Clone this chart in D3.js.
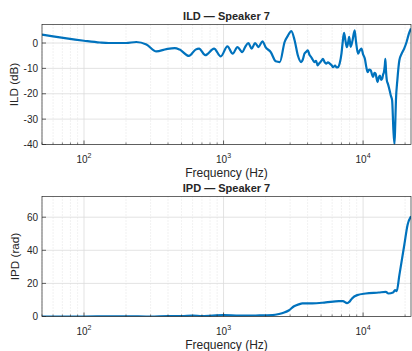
<!DOCTYPE html>
<html lang="en">
<head>
<meta charset="UTF-8">
<title>ILD / IPD - Speaker 7</title>
<script src="https://d3js.org/d3.v7.min.js"></script>
<style>
  body { margin: 0; background: #fff; }
  text { font-family: "Liberation Sans", Arial, sans-serif; fill: #262626; }
</style>
</head>
<body>
<div id="chart"></div>
<script>
// ILD curve (frequency in Hz, level difference in dB)
var ildFreq = [50, 60, 75, 100, 130, 150, 200, 237, 280, 330, 390, 447, 485, 565, 630, 668, 740,
  855, 955, 1066, 1163, 1258, 1364, 1430, 1507, 1590, 1683, 1780, 1900, 2000, 2180, 2365, 2530,
  2740, 2900, 3060, 3230, 3410, 3600, 3700, 3800, 3900, 4020, 4120, 4240, 4350, 4470, 4600, 4720,
  4850, 5000, 5160, 5300, 5440, 5600, 5770, 5950, 6100, 6300, 6450, 6620, 6800, 7000, 7150, 7300,
  7500, 7650, 7800, 7950, 8150, 8400, 8700, 8900, 9200, 9450, 9730, 10000, 10300, 10550, 10800,
  11050, 11350, 11600, 11800, 12050, 12300, 12500, 12700, 12950, 13200, 13450, 13700, 13900,
  14100, 14300, 14450, 14600, 14800, 15050, 15300, 15550, 15800, 16150, 16500, 16800, 17000,
  17200, 17600, 18200, 18900, 19700, 20500, 21300, 22050];
var ildValues = [3.3, 2.6, 1.8, 0.9, 0.2, 0.0, 0.0, 0.4, -0.6, -3.3, -2.4, -2.0, -2.6, -5.1, -2.6, -2.2, -4.8,
  -2.2, -5.3, -1.3, -4.2, -1.6, -3.6, -1.5, 0.0, -2.2, 0.0, -1.6, 0.7, -1.6, -3.6, -7.2, -7.5,
  0.4, 3.0, 4.7, 1.1, -4.9, -7.5, -6.5, -4.2, -3.5, -2.9, -4.5, -5.5, -6.5, -7.5, -7.0, -8.8,
  -8.0, -7.2, -6.2, -7.5, -8.1, -7.6, -8.1, -8.8, -9.5, -8.9, -9.6, -9.5, -8.0, -4.2, 0.5, 4.0,
  0.5, -1.6, 0.0, 2.4, -1.5, 1.0, 5.0, 0.5, -4.2, -3.0, -2.2, -4.5, -6.2, -9.5, -11.5,
  -10.5, -10.8, -12.5, -13.4, -11.8, -12.1, -14.0, -15.4, -13.5, -12.8, -14.5, -14.1, -12.5,
  -11.5, -9.0, -6.2, -11.0, -14.7, -16.0, -17.4, -19.0, -20.7, -22.6, -34.5, -39.8, -32.0,
  -22.6, -14.7, -6.8, -4.2, -2.2, 0.4, 3.7, 5.7];

// IPD curve (frequency in Hz, phase difference in rad)
var ipdFreq = [50, 100, 200, 300, 400, 500, 600, 700, 1000, 1300, 1700, 2240, 2500, 2720, 2950,
  3200, 3450, 3675, 4320, 5400, 6720, 7160, 7680, 8000, 8330, 9070, 10450, 12950, 14540, 15190,
  16400, 16950, 17420, 18200, 19740, 20830, 22050];
var ipdValues = [0, 0, 0.1, 0, 0.3, 0.2, 0.6, 0.3, 0.8, 0.5, 0.6, 0.8, 1.5, 2.4, 3.8,
  6.2, 7.3, 7.9, 7.9, 8.5, 9.3, 9.3, 8.1, 9.0, 10.9, 12.9, 13.9, 14.5, 14.9, 13.9,
  14.5, 15.9, 15.3, 25, 43.2, 55.3, 60.5];

var freqRange = [50, 22050];
var decadeTicks = [100, 1000, 10000];
var ildTicks = [-40, -30, -20, -10, 0];
var ipdTicks = [0, 20, 40, 60];

var W = 412, H = 351;
var svg = d3.select("#chart").append("svg")
  .attr("width", W).attr("height", H);

var left = 42, right = 411;

function panel(cfg) {
  var x = d3.scaleLog().domain(freqRange).range([left, right]);
  var y = d3.scaleLinear().domain(cfg.yDomain).range([cfg.bottom, cfg.top]);
  var g = svg.append("g");

  // minor ticks for the log axis
  var minor = [];
  [10, 100, 1000, 10000].forEach(function(d) {
    for (var k = 1; k < 10; k++) {
      var v = d * k;
      if (v >= freqRange[0] && v <= freqRange[1] && decadeTicks.indexOf(v) < 0) minor.push(v);
    }
  });

  // grid
  g.selectAll(".minor").data(minor).enter().append("line")
    .attr("x1", d => x(d)).attr("x2", d => x(d))
    .attr("y1", cfg.top).attr("y2", cfg.bottom)
    .attr("stroke", "#d4d4d4").attr("stroke-width", 0.6).attr("stroke-dasharray", "1,2");
  g.selectAll(".vmajor").data(decadeTicks).enter().append("line")
    .attr("x1", d => x(d)).attr("x2", d => x(d))
    .attr("y1", cfg.top).attr("y2", cfg.bottom)
    .attr("stroke", "#dcdcdc").attr("stroke-width", 0.8);
  g.selectAll(".hmajor").data(cfg.yTicks).enter().append("line")
    .attr("x1", left).attr("x2", right)
    .attr("y1", d => y(d)).attr("y2", d => y(d))
    .attr("stroke", "#dcdcdc").attr("stroke-width", 0.8);

  // data line
  var clipId = "clip" + cfg.name;
  svg.append("clipPath").attr("id", clipId).append("rect")
    .attr("x", left).attr("y", cfg.top).attr("width", right - left).attr("height", cfg.bottom - cfg.top);
  var pts = cfg.freq.map((f, i) => [f, cfg.values[i]]);
  g.append("path")
    .datum(pts)
    .attr("clip-path", "url(#" + clipId + ")")
    .attr("fill", "none")
    .attr("stroke", "#0072BD")
    .attr("stroke-width", 2.2)
    .attr("stroke-linejoin", "round")
    .attr("d", d3.line().x(d => x(d[0])).y(d => y(d[1])).curve(d3.curveMonotoneX));

  // box
  g.append("rect")
    .attr("x", left).attr("y", cfg.top).attr("width", right - left).attr("height", cfg.bottom - cfg.top)
    .attr("fill", "none").attr("stroke", "#262626").attr("stroke-width", 0.7);

  // inward ticks
  g.selectAll(".xt").data(decadeTicks).enter().append("line")
    .attr("x1", d => x(d)).attr("x2", d => x(d))
    .attr("y1", cfg.bottom).attr("y2", cfg.bottom - 4)
    .attr("stroke", "#262626").attr("stroke-width", 0.7);
  g.selectAll(".xm").data(minor).enter().append("line")
    .attr("x1", d => x(d)).attr("x2", d => x(d))
    .attr("y1", cfg.bottom).attr("y2", cfg.bottom - 2)
    .attr("stroke", "#262626").attr("stroke-width", 0.6);
  g.selectAll(".yt").data(cfg.yTicks).enter().append("line")
    .attr("x1", left).attr("x2", left + 4)
    .attr("y1", d => y(d)).attr("y2", d => y(d))
    .attr("stroke", "#262626").attr("stroke-width", 0.7);

  // tick labels
  g.selectAll(".yl").data(cfg.yTicks).enter().append("text")
    .attr("x", left - 4).attr("y", d => y(d) + 3.5)
    .attr("text-anchor", "end").attr("font-size", 10)
    .text(d => d);
  var xl = g.selectAll(".xl").data(decadeTicks).enter().append("text")
    .attr("x", d => x(d)).attr("y", cfg.bottom + 18)
    .attr("text-anchor", "middle").attr("font-size", 10);
  xl.append("tspan").text("10");
  xl.append("tspan").attr("dy", -5).attr("font-size", 7).text(d => Math.round(Math.log10(d)));

  // titles and labels
  g.append("text").attr("x", (left + right) / 2).attr("y", cfg.top - 5)
    .attr("text-anchor", "middle").attr("font-size", 11).attr("font-weight", "bold")
    .attr("fill", "#000").text(cfg.title);
  g.append("text").attr("x", (left + right) / 2).attr("y", cfg.bottom + 32)
    .attr("text-anchor", "middle").attr("font-size", 12)
    .text("Frequency (Hz)");
  g.append("text")
    .attr("transform", "translate(" + cfg.ylabelX + "," + (cfg.top + cfg.bottom) / 2 + ") rotate(-90)")
    .attr("text-anchor", "middle").attr("font-size", 11.7)
    .text(cfg.ylabel);
}

panel({ name: "ild", top: 24.5, bottom: 144.5, yDomain: [-40, 7.3], yTicks: ildTicks,
  freq: ildFreq, values: ildValues, title: "ILD \u2014 Speaker 7", ylabel: "ILD (dB)", ylabelX: 18 });
panel({ name: "ipd", top: 196.5, bottom: 316.5, yDomain: [0, 72.5], yTicks: ipdTicks,
  freq: ipdFreq, values: ipdValues, title: "IPD \u2014 Speaker 7", ylabel: "IPD (rad)", ylabelX: 19 });
</script>
</body>
</html>
